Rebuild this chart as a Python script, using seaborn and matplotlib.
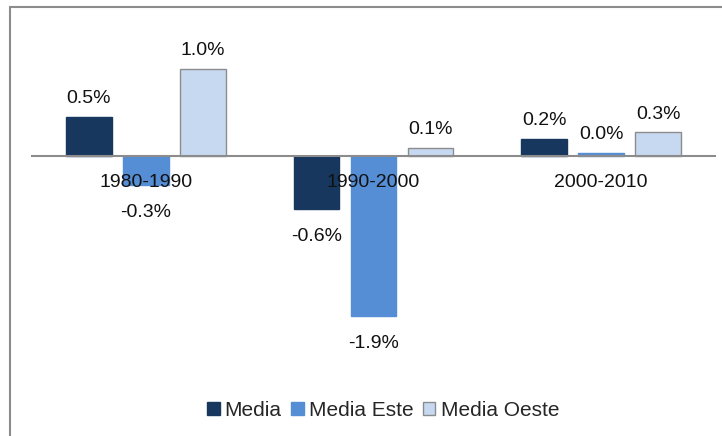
import matplotlib
matplotlib.use("Agg")
import matplotlib.pyplot as plt
from matplotlib.patches import Patch, Rectangle
import pandas as pd
import seaborn as sns

periods = ["1980-1990", "1990-2000", "2000-2010"]
series = ["Media", "Media Este", "Media Oeste"]
media = [0.47, -0.63, 0.20]
media_este = [-0.34, -1.90, 0.04]
media_oeste = [1.04, 0.10, 0.28]
colors = ["#17375E", "#558ED5", "#C6D9F1"]
edges = ["#17375E", "#558ED5", "#8C8C8C"]

df = pd.DataFrame({
    "period": periods * 3,
    "series": [s for s in series for _ in periods],
    "value": media + media_este + media_oeste,
})

sns.set_theme(style="white")
plt.rcParams["font.family"] = ["Liberation Sans", "DejaVu Sans"]

fig = plt.figure(figsize=(7.22, 4.36), dpi=100)
ax = fig.add_axes([32 / 722, 76 / 436, 683 / 722, 340 / 436])

sns.barplot(data=df, x="period", y="value", hue="series", order=periods,
            hue_order=series, palette=colors, width=0.75, gap=0.2,
            saturation=1, legend=False, ax=ax)

for cont, ec in zip(ax.containers, edges):
    for bar in cont:
        bar.set_edgecolor(ec)
        bar.set_linewidth(1.0)
        bar.set_zorder(1)
    vals = [b.get_height() for b in cont]
    pos = [f"{v:.1f}%" if v >= 0 else "" for v in vals]
    neg = [f"{v:.1f}%" if v < 0 else "" for v in vals]
    ax.bar_label(cont, labels=pos, padding=7, fontsize=14, color="#111111")
    ax.bar_label(cont, labels=neg, padding=14, fontsize=14, color="#111111")

ax.set_xlim(-0.5, 2.5)
ax.set_ylim(-2.43, 1.62)
ax.set_xlabel("")
ax.set_ylabel("")
ax.set_yticks([])
for side in ["top", "right", "left"]:
    ax.spines[side].set_visible(False)
ax.spines["bottom"].set_position(("data", 0))
ax.spines["bottom"].set_color("#8C8C8C")
ax.spines["bottom"].set_linewidth(1.5)
ax.spines["bottom"].set_zorder(3)
ax.xaxis.set_zorder(5)
ax.tick_params(axis="x", length=0, pad=13, labelsize=14, labelcolor="#111111")
ax.patch.set_visible(False)

handles = [Patch(facecolor=c, edgecolor=e, label=s) for c, e, s in zip(colors, edges, series)]
fig.legend(handles=handles, loc="center", bbox_to_anchor=(383 / 722, 1 - 410 / 436),
           ncol=3, frameon=False, fontsize=15, handlelength=0.6, handleheight=0.6,
           handletextpad=0.25, columnspacing=0.45)

fig.patches.append(Rectangle((10 / 722, -0.1), 1.2, 1 - 7 / 436 + 0.1,
                             transform=fig.transFigure, fill=False,
                             edgecolor="#8C8C8C", linewidth=1.5, zorder=0))

fig.savefig("out.png", dpi=100)
